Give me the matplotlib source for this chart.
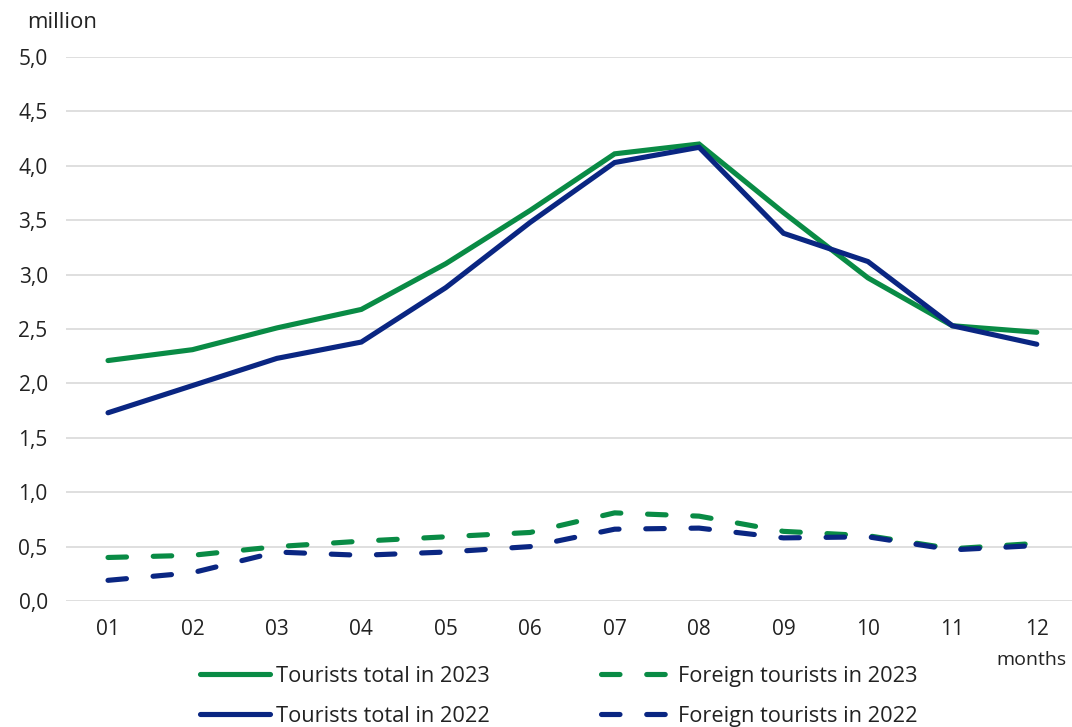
import matplotlib
matplotlib.use("Agg")
import matplotlib.pyplot as plt
from matplotlib import font_manager

months = ["01", "02", "03", "04", "05", "06", "07", "08", "09", "10", "11", "12"]
total_2023 = [2.21, 2.31, 2.51, 2.68, 3.10, 3.59, 4.11, 4.20, 3.57, 2.97, 2.53, 2.47]
total_2022 = [1.73, 1.98, 2.23, 2.38, 2.88, 3.48, 4.03, 4.17, 3.38, 3.12, 2.53, 2.36]
foreign_2023 = [0.40, 0.42, 0.50, 0.55, 0.59, 0.63, 0.81, 0.78, 0.64, 0.60, 0.48, 0.53]
foreign_2022 = [0.19, 0.26, 0.45, 0.42, 0.45, 0.50, 0.66, 0.67, 0.58, 0.59, 0.47, 0.51]
yticks = [0.0, 0.5, 1.0, 1.5, 2.0, 2.5, 3.0, 3.5, 4.0, 4.5, 5.0]
ytick_labels = ["0,0", "0,5", "1,0", "1,5", "2,0", "2,5", "3,0", "3,5", "4,0", "4,5", "5,0"]
labels = ["Tourists total in 2023", "Tourists total in 2022",
          "Foreign tourists in 2023", "Foreign tourists in 2022"]

GREEN = "#098B45"
BLUE = "#0A2682"
TXT = "#222222"

avail = {f.name for f in font_manager.fontManager.ttflist}
base_font = "Open Sans" if "Open Sans" in avail else "DejaVu Sans"
plt.rcParams["font.family"] = [base_font, "DejaVu Sans"]

fig = plt.figure(figsize=(10.72, 7.27), dpi=100)
ax = fig.add_axes([65.8 / 1072, 126 / 727, (1079 - 65.8) / 1072, 544 / 727])

x = list(range(len(months)))
lw = 3.7
h1, = ax.plot(x, total_2023, color=GREEN, lw=lw, solid_capstyle="round", solid_joinstyle="miter", zorder=3)
h2, = ax.plot(x, total_2022, color=BLUE, lw=lw, solid_capstyle="round", solid_joinstyle="miter", zorder=4)
h3, = ax.plot(x, foreign_2023, color=GREEN, lw=lw, dashes=(3.6, 5.2), dash_capstyle="round", zorder=3)
h4, = ax.plot(x, foreign_2022, color=BLUE, lw=lw, dashes=(3.6, 5.2), dash_capstyle="round", zorder=4)

ax.set_xlim(-0.5, 11.5)
ax.set_ylim(0, 5.0)
ax.set_yticks(yticks)
ax.set_yticklabels(ytick_labels)
ax.set_xticks(x)
ax.set_xticklabels(months)
ax.grid(axis="y", color="#d9d9d9", lw=1.2, zorder=0)
for s in ax.spines.values():
    s.set_visible(False)
ax.tick_params(axis="both", length=0, labelsize=15, colors=TXT)
ax.tick_params(axis="y", pad=13)
ax.tick_params(axis="x", pad=13)

fig.text(27 / 1072, 1 - 22 / 727, "million", fontsize=16, color=TXT, va="center", ha="left")
fig.text(1066 / 1072, 1 - 660 / 727, "months", fontsize=14, color=TXT, va="center", ha="right")

leg = fig.legend([h1, h2, h3, h4], labels, ncol=2, loc="upper left",
                 bbox_to_anchor=(200 / 1072, 1 - 666 / 727), frameon=False,
                 prop={"size": 15.7},
                 handlelength=3.2, handletextpad=0.3, columnspacing=5.1,
                 labelspacing=0.87, borderaxespad=0, borderpad=0)
for t in leg.get_texts():
    t.set_color(TXT)

fig.savefig("out.png", dpi=100)
